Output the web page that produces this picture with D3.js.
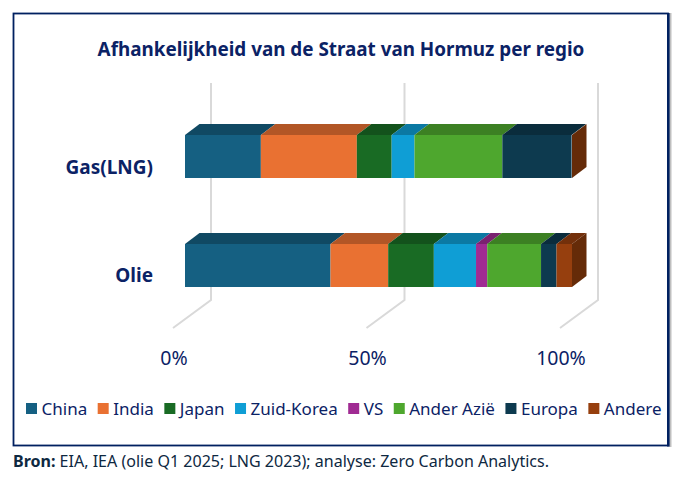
<!DOCTYPE html>
<html>
<head>
<meta charset="utf-8">
<script src="https://cdn.jsdelivr.net/npm/d3@7"></script>
<style>
  html, body { margin: 0; padding: 0; background: #fff; }
  svg { display: block; }
  text { font-family: "Noto Sans", "Open Sans", sans-serif; fill: #0b2265; }
</style>
</head>
<body>
<svg class="chart" width="681" height="486"></svg>
<script>
const regions = ['Gas(LNG)', 'Olie'];
const seriesNames = ['China', 'India', 'Japan', 'Zuid-Korea', 'VS', 'Ander Azië', 'Europa', 'Andere'];
const gasValues = [19.6, 24.8, 9.0, 5.9, 0, 22.7, 17.9, 0];
const olieValues = [37.6, 14.9, 11.8, 10.9, 2.9, 13.9, 4.0, 4.0];
const ticks = [0, 50, 100];
const seriesColors = ['#156082', '#e97132', '#196b24', '#0f9ed5', '#a02b93', '#4ea72e', '#0d3a4f', '#963f0e'];

const svg = d3.select('svg.chart');

// 3d depth of a bar
const depthX = 14.5, depthY = 11;

let x = d3.scaleLinear().domain([0, 100]).range([185, 572]);
let y = d3.scaleBand().domain(regions).range([107.75, 314.25]).paddingInner(0.6055).paddingOuter(0.25);

let rows = regions.map((r, i) => {
  let row = { region: r };
  let values = i === 0 ? gasValues : olieValues;
  seriesNames.forEach((s, j) => row[s] = values[j]);
  return row;
});
let stacked = d3.stack().keys(seriesNames)(rows);

// frame, the grey strip on the right is its shadow
svg.append('rect')
  .attr('x', 669).attr('y', 13)
  .attr('width', 2.5).attr('height', 434)
  .attr('fill', '#bfbfbf');

svg.append('rect')
  .attr('x', 13.5).attr('y', 13.5)
  .attr('width', 654.5).attr('height', 432)
  .attr('fill', '#fff')
  .attr('stroke', '#002060')
  .attr('stroke-width', 1.8);

svg.append('rect')
  .attr('x', 667).attr('y', 13)
  .attr('width', 2.6).attr('height', 433.5)
  .attr('fill', '#002060');

svg.append('text')
  .attr('x', 341).attr('y', 56)
  .attr('text-anchor', 'middle')
  .attr('font-size', 18.85)
  .attr('font-weight', 700)
  .text('Afhankelijkheid van de Straat van Hormuz per regio');

// gridlines with their foot on the floor
svg.append('g').selectAll('path')
  .data(ticks)
  .join('path')
  .attr('d', d => `M${x(d) + 26},83V300L${x(d) - 12},328`)
  .attr('fill', 'none')
  .attr('stroke', '#d9d9d9')
  .attr('stroke-width', 2);

svg.append('g').selectAll('text')
  .data(ticks)
  .join('text')
  .attr('x', d => x(d) - 11)
  .attr('y', 364.5)
  .attr('text-anchor', 'middle')
  .attr('font-size', 19.5)
  .text(d => d + '%');

// category labels sit lower than the bars, level with the 3d floor
svg.append('g').selectAll('text')
  .data(regions)
  .join('text')
  .attr('x', 153)
  .attr('y', d => y(d) + y.bandwidth() / 2 + 17)
  .attr('text-anchor', 'end')
  .attr('font-size', 19)
  .attr('font-weight', 700)
  .text(d => d);

// bars, each segment has a front and a top
stacked.forEach((layer, i) => {
  let color = d3.color(seriesColors[i]);
  let g = svg.append('g').attr('class', 'series');
  let shown = layer.filter(d => d[1] > d[0]);

  g.selectAll('path.top')
    .data(shown)
    .join('path')
    .attr('class', 'top')
    .attr('fill', color.darker(0.75))
    .attr('d', d => {
      let top = y(d.data.region);
      return `M${x(d[0])},${top}l${depthX},${-depthY}H${x(d[1]) + depthX}l${-depthX},${depthY}Z`;
    });

  g.selectAll('rect')
    .data(shown)
    .join('rect')
    .attr('x', d => x(d[0]))
    .attr('y', d => y(d.data.region))
    .attr('width', d => x(d[1]) - x(d[0]))
    .attr('height', y.bandwidth())
    .attr('fill', color);
});

// closing side of each bar
svg.append('g').selectAll('path')
  .data(regions)
  .join('path')
  .attr('fill', '#652b08')
  .attr('d', d => {
    let top = y(d), xEnd = x(100);
    return `M${xEnd},${top}l${depthX},${-depthY}v${y.bandwidth()}l${-depthX},${depthY}Z`;
  });

// legend
let legendX = 26;
seriesNames.forEach((s, i) => {
  let g = svg.append('g').attr('class', 'legend-item').attr('transform', `translate(${legendX},0)`);
  g.append('rect')
    .attr('y', 403).attr('width', 11).attr('height', 11)
    .attr('fill', seriesColors[i]);
  let label = g.append('text')
    .attr('x', 15.5).attr('y', 415)
    .attr('font-size', 17)
    .text(s);
  legendX += 15.5 + label.node().getComputedTextLength() + 10.5;
});

let source = svg.append('text')
  .attr('x', 13).attr('y', 467)
  .attr('font-size', 16.05)
  .style('fill', '#0e2841');
source.append('tspan').attr('font-weight', 700).text('Bron:');
source.append('tspan').text(' EIA, IEA (olie Q1 2025; LNG 2023); analyse: Zero Carbon Analytics.');
</script>
</body>
</html>
